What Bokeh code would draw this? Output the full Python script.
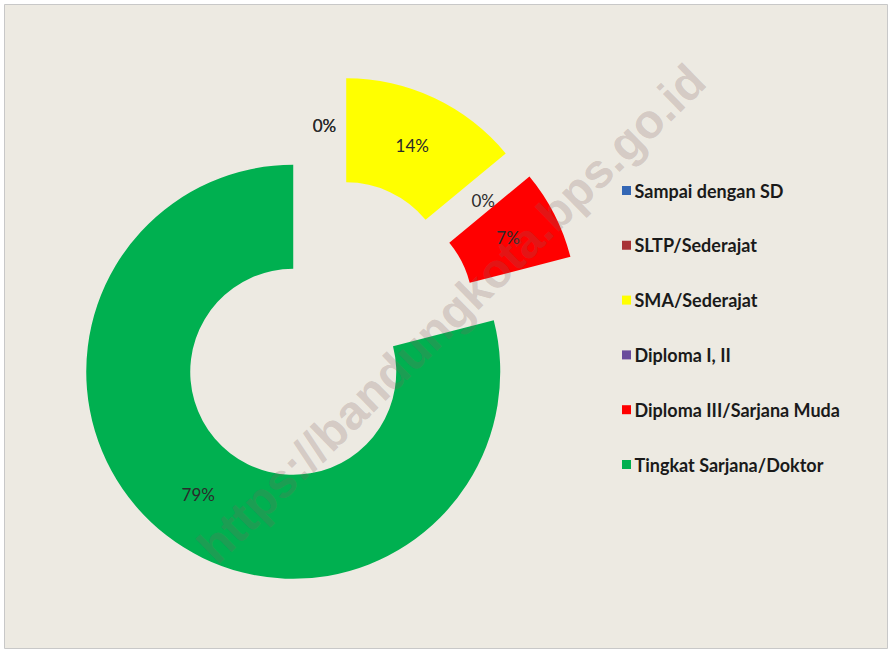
import math
from bokeh.plotting import figure
from bokeh.models import Range1d, ColumnDataSource
from bokeh.core.properties import value
from bokeh.embed import file_html
from bokeh.resources import INLINE

categories = ["Sampai dengan SD", "SLTP/Sederajat", "SMA/Sederajat",
              "Diploma I, II", "Diploma III/Sarjana Muda", "Tingkat Sarjana/Doktor"]
shares = [0, 0, 14, 0, 7, 79]
colors = ["#3467B5", "#A83236", "#FFFF00", "#6A4C9C", "#FF0000", "#00B050"]
watermark = "https://bandungkota.bps.go.id"

W, H = 890, 651
BG = "#EDEAE2"
ml, mt, mr, mb = 4, 4, 3, 3
p = figure(width=W, height=H, output_backend="svg", toolbar_location=None,
           x_range=Range1d(ml, W - mr), y_range=Range1d(mb, H - mt),
           min_border_left=ml, min_border_top=mt, min_border_right=mr,
           min_border_bottom=mb,
           background_fill_color=BG, border_fill_color="white")
p.axis.visible = False
p.grid.visible = False
p.outline_line_color = "#C8C8C8"

# donut geometry (pixels, y up)
cx, cy = 324, 320
r_in, r_out = 103, 207
explode = 51
r_lab = (r_in + r_out) / 2

total = sum(shares)
wed = dict(x=[], y=[], start=[], end=[], color=[])
lab = dict(lx=[], ly=[], label=[])
acc = 0.0
for s, c in zip(shares, colors):
    t1 = acc / total * 360.0
    t2 = (acc + s) / total * 360.0
    mid = math.radians((t1 + t2) / 2)
    ox = cx + explode * math.sin(mid)
    oy = cy + explode * math.cos(mid)
    if s > 0:
        wed["x"].append(ox); wed["y"].append(oy)
        wed["start"].append(math.radians(90 - t2))
        wed["end"].append(math.radians(90 - t1))
        wed["color"].append(c)
    lab["lx"].append(ox + r_lab * math.sin(mid))
    lab["ly"].append(oy + r_lab * math.cos(mid))
    lab["label"].append(f"{s}%")
    acc += s

p.annular_wedge(x="x", y="y", inner_radius=r_in, outer_radius=r_out,
                start_angle="start", end_angle="end", fill_color="color",
                line_color=None, source=ColumnDataSource(wed))
p.text(x="lx", y="ly", text="label", source=ColumnDataSource(lab),
       text_font=value("Lato"), text_font_size="17px", text_color="#2B2B2B",
       text_align="center", text_baseline="middle")

# legend
leg_x = 626
leg_y0 = H - 190
leg_dy = 54.8
leg_src = ColumnDataSource(dict(
    x=[leg_x] * len(categories),
    y=[leg_y0 - i * leg_dy for i in range(len(categories))],
    tx=[leg_x + 8] * len(categories),
    name=categories, color=colors))
p.scatter(x="x", y="y", marker="square", size=9, fill_color="color",
          line_color=None, source=leg_src)
p.text(x="tx", y="y", text="name", source=leg_src, text_font=value("Lato"),
       text_font_style="bold", text_font_size="18px", text_color="#1A1A1A",
       text_align="left", text_baseline="middle")

# watermark
p.text(x=[451], y=[H - 313], text=[watermark], angle=math.radians(44.4),
       text_font=value("Liberation Sans"), text_font_style="bold",
       text_font_size="48px", text_color="#806060", text_alpha=0.24,
       text_align="center", text_baseline="middle")

open("out.html", "w").write(file_html(p, INLINE))
